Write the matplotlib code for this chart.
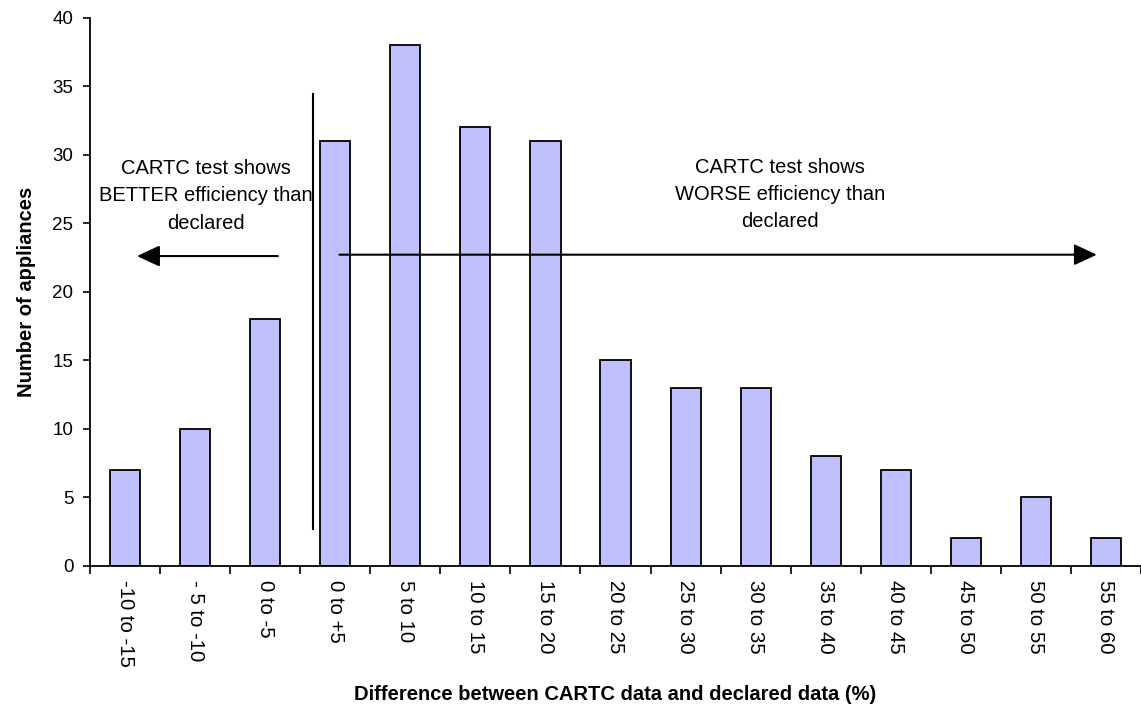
import matplotlib
matplotlib.use("Agg")
import matplotlib.pyplot as plt

plt.rcParams['font.family'] = ['Liberation Sans', 'DejaVu Sans']

categories = ["-10 to -15", "- 5 to -10", "0 to -5", "0 to +5", "5 to 10",
              "10 to 15", "15 to 20", "20 to 25", "25 to 30", "30 to 35",
              "35 to 40", "40 to 45", "45 to 50", "50 to 55", "55 to 60"]
counts = [7, 10, 18, 31, 38, 32, 31, 15, 13, 13, 8, 7, 2, 5, 2]

fig = plt.figure(figsize=(11.41, 7.06), dpi=100)
ax = fig.add_axes([0.0789, 0.1987, 0.9211, 0.7763])

x = list(range(len(categories)))
ax.bar(x, counts, width=0.43, color="#C0C0FF", edgecolor="black", linewidth=1.3)

ax.set_xlim(-0.5, len(categories) - 0.5)
ax.set_ylim(0, 40)
ax.set_yticks(range(0, 41, 5))
ax.set_xticks([i - 0.5 for i in range(len(categories) + 1)], minor=False)
ax.set_xticklabels([])
ax.set_xticks(x, minor=True)
ax.set_xticklabels(categories, minor=True, rotation=-90, fontsize=14.7)
ax.tick_params(axis="x", which="minor", length=0, pad=10)
ax.tick_params(axis="x", which="major", length=6, width=1.2, direction="out")
ax.tick_params(axis="y", length=5, width=1.2, labelsize=13.5, pad=7)

for side in ("top", "right"):
    ax.spines[side].set_visible(False)
for side in ("left", "bottom"):
    ax.spines[side].set_linewidth(1.3)

ax.set_ylabel("Number of appliances", fontsize=14.5, fontweight="bold", labelpad=12)
ax.set_xlabel("Difference between CARTC data and declared data (%)",
              fontsize=14.5, fontweight="bold", labelpad=13)

# divider between better and worse results
ax.plot([2.68, 2.68], [2.7, 34.4], color="black", linewidth=1.5, clip_on=False)

arrow_style = dict(arrowstyle="-|>,head_length=1.4,head_width=0.65",
                   color="black", lw=1.5, shrinkA=0, shrinkB=0)
ax.annotate("", xy=(0.17, 22.6), xytext=(2.18, 22.6), arrowprops=arrow_style)
ax.annotate("", xy=(13.87, 22.7), xytext=(3.06, 22.7), arrowprops=arrow_style)

ax.text(1.155, 27.0, "CARTC test shows\nBETTER efficiency than\ndeclared",
        ha="center", va="center", fontsize=14.5, linespacing=1.55)
ax.text(9.35, 27.1, "CARTC test shows\nWORSE efficiency than\ndeclared",
        ha="center", va="center", fontsize=14.5, linespacing=1.55)

fig.savefig("out.png", dpi=100)
